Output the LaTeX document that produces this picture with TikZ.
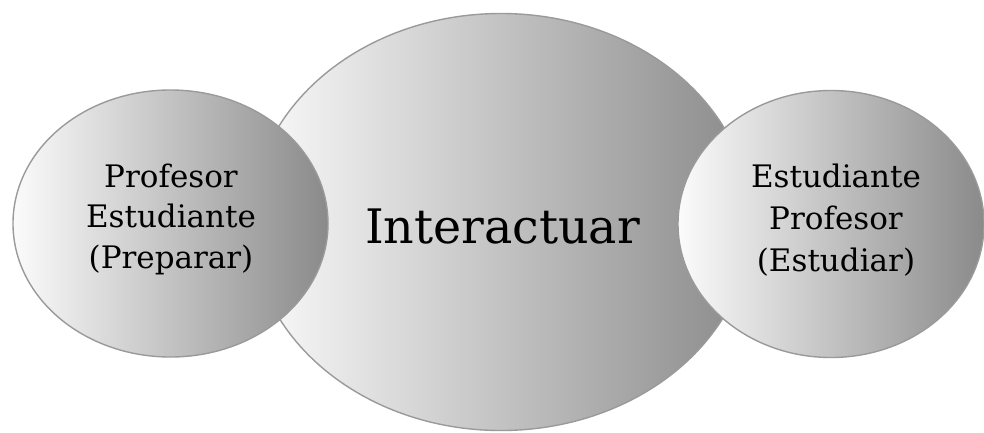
\documentclass[tikz,border=0pt]{standalone}
\usepackage{fontspec}
\setmainfont{DejaVu Serif}
\usetikzlibrary{shapes.geometric}
\definecolor{gradL}{HTML}{FBFBFB}
\definecolor{gradR}{HTML}{8A8A8A}
\definecolor{rimc}{HTML}{9A9A9A}
\tikzset{
  bubble/.style={ellipse, inner sep=0pt, draw=rimc, line width=1.4pt,
    left color=gradL, right color=gradR, shading angle=90},
  smalltxt/.style={inner sep=0pt, anchor=base},
}
\setlength{\tabcolsep}{0pt}
\begin{document}
\begin{tikzpicture}[x=1pt,y=-1pt]
\useasboundingbox (0,0) rectangle (984,432);
\node[bubble, minimum width=500pt, minimum height=417pt] (mid) at (501,222) {};
\node[bubble, minimum width=315pt, minimum height=267pt] (lft) at (170.5,223.5) {};
\node[bubble, minimum width=306pt, minimum height=267pt] (rgt) at (831,224) {};
\node[font=\fontsize{47.5}{56}\selectfont, anchor=base, inner sep=0pt] (midtxt) at (502.5,243) {Interactuar};
\node[smalltxt] (lfttxt) at (171,187) {\fontsize{31}{40.5}\selectfont\begin{tabular}[t]{c}Profesor\\Estudiante\\(Preparar)\end{tabular}};
\node[smalltxt] (rgttxt) at (836,187) {\fontsize{31}{42}\selectfont\begin{tabular}[t]{c}Estudiante\\Profesor\\(Estudiar)\end{tabular}};
\end{tikzpicture}
\end{document}
